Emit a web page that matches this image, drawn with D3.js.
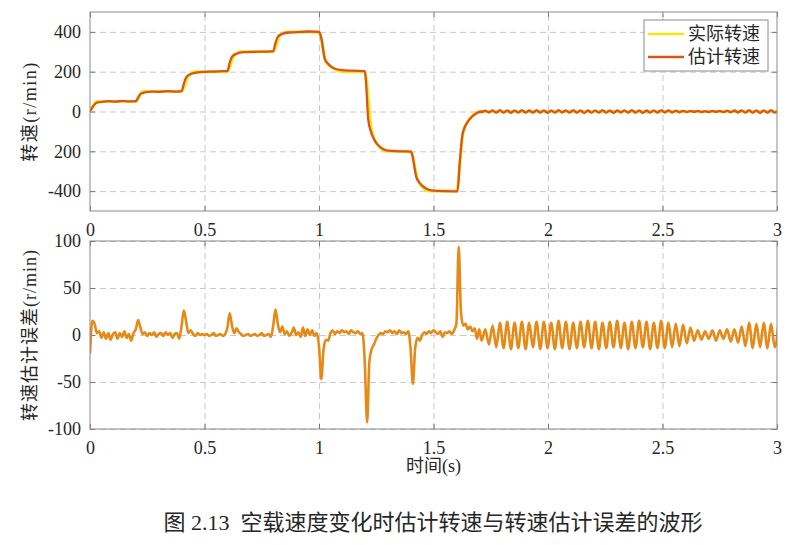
<!DOCTYPE html>
<html>
<head>
<meta charset="utf-8">
<script src="https://cdn.jsdelivr.net/npm/d3@7"></script>
<style>
  body { margin: 0; background: #fff; }
  .axis text { font-family: "Liberation Serif", "Noto Sans CJK SC", serif; font-size: 18px; fill: #262626; }
  .axis path { display: none; }
  .axis line { stroke: #777; }
  .grid line { stroke: #c8c8c8; stroke-dasharray: 6,4; }
  .grid path { display: none; }
  .lbl { font-family: "Liberation Serif", "Noto Sans CJK SC", serif; font-size: 18px; fill: #262626; white-space: pre; }
</style>
</head>
<body>
<svg id="chart" width="790" height="545"></svg>
<script>
// ---- data ----
var xTicks = [0, 0.5, 1, 1.5, 2, 2.5, 3];
var xTickLabels = ['0', '0.5', '1', '1.5', '2', '2.5', '3'];
var speedTicks = [-400, -200, 0, 200, 400];
var speedTickLabels = ['-400', '200', '0', '200', '400'];
var errTicks = [-100, -50, 0, 50, 100];
var errTickLabels = ['-100', '-50', '0', '50', '100'];
var seriesNames = ['实际转速', '估计转速'];

// actual speed (r/min) : [time s, value]
var actualSpeed = [
  [0, 0], [0.03, 50], [0.2, 50], [0.23, 100], [0.4, 100], [0.43, 180], [0.46, 200],
  [0.6, 200], [0.63, 285], [0.66, 300], [0.8, 300], [0.83, 385], [0.86, 400],
  [1.0, 400], [1.03, 250], [1.07, 212], [1.1, 200], [1.2, 200], [1.23, -100],
  [1.27, -185], [1.3, -200], [1.4, -200], [1.43, -340], [1.46, -390], [1.48, -400],
  [1.6, -400], [1.63, -100], [1.66, -35], [1.69, -5], [1.71, 0], [3.0, 0]
];

// estimated speed (r/min) up to 1.71 s : [time s, value]
var estSpeedHead = [
  [0, 0], [0.01, 20], [0.02, 35], [0.03, 45], [0.05, 48], [0.08, 52], [0.11, 50], [0.14, 53],
  [0.17, 51], [0.2, 52], [0.21, 70], [0.22, 88], [0.24, 96], [0.27, 100], [0.3, 99],
  [0.34, 102], [0.38, 100], [0.4, 102], [0.41, 140], [0.42, 172], [0.44, 188], [0.47, 197],
  [0.52, 200], [0.56, 202], [0.6, 203], [0.61, 245], [0.62, 275], [0.64, 290], [0.67, 298],
  [0.72, 300], [0.77, 301], [0.8, 303], [0.81, 345], [0.82, 375], [0.84, 390], [0.87, 397],
  [0.92, 400], [0.96, 402], [1.0, 400], [1.01, 370], [1.025, 265], [1.04, 240], [1.06, 220],
  [1.1, 208], [1.15, 205], [1.2, 203], [1.205, 150], [1.215, -40], [1.225, -95], [1.24, -140],
  [1.27, -182], [1.3, -197], [1.35, -200], [1.4, -202], [1.405, -210], [1.425, -330],
  [1.44, -360], [1.47, -388], [1.5, -398], [1.55, -400], [1.605, -401], [1.615, -250],
  [1.628, -107], [1.657, -40], [1.686, -10], [1.71, 0]
];

// speed ripple after 1.71 s, one value every 0.016 s
var oscStart = 1.71;
var oscStep = 0.016;
var estSpeedOsc = [
  -3, 4, -5, 6, -6, 7, -6, 6, -7, 6,
  -6, 7, -6, 5, -6, 7, -6, 6, -7, 6,
  -6, 7, -5, 6, -6, 7, -6, 6, -7, 5,
  -6, 6, -6, 7, -6, 6, -7, 6, -5, 6,
  -6, 7, -6, 6, -7, 5, -6, 6, -6, 7,
  -5, 6, -5, 4, -4, 3, -3, 3, -2, 3,
  -3, 2, -3, 3, -2, 3, -3, 4, -4, 5,
  -5, 6, -6, 7, -6, 6, -7, 6, -6, 7,
  -6, 5
];

// speed estimation error (r/min), one value every 0.01 s from 0 to 1.70 s
var errStep = 0.01;
var errHead = [
  -20, 15, 12, 2, 4, -3, 3, -4, 2, -5,
  1, 3, -4, 2, -2, 4, -3, 1, -6, 2,
  6, 16, 8, 1, 3, -1, 2, 0, 3, -2,
  1, 2, -1, 3, 0, 2, -3, 1, 2, -4,
  10, 26, 14, 2, 5, 1, -1, 2, 0, 1,
  0, 1, -1, 0, 2, -1, 0, 1, -1, 1,
  8, 23, 10, 2, 7, 3, 1, -1, 0, 1,
  -1, 0, 1, -1, 0, 2, -1, 0, 1, -2,
  10, 27, 12, 3, 9, 1, 4, -1, 2, 8,
  0, 3, -2, 8, -1, 6, 0, 5, -1, 2,
  -12, -47, -15, -5, -6, 2, 5, 1, 4, 2,
  5, 3, 4, 1, 5, 3, 2, 4, 1, 2,
  -30, -93, -28, -15, -10, -4, 0, 2, 1, 4,
  3, 5, 2, 4, 1, 5, 2, 3, 1, 4,
  -15, -52, -14, -3, -6, 0, 3, 1, 4, 2,
  5, 3, 1, 4, -2, 3, 2, 4, 1, 5,
  12, 94, 24, 10, 12, 6, 9, 4, 7, -4,
  6
];
// error ripple after 1.71 s, one value every 0.016 s
var errOsc = [
  -6, 6, -10, 10, -13, 13, -14, 14, -15, 13,
  -14, 14, -15, 13, -13, 14, -15, 14, -14, 13,
  -15, 15, -14, 14, -15, 13, -14, 14, -13, 15,
  -14, 14, -15, 13, -14, 14, -13, 15, -14, 13,
  -15, 14, -14, 15, -13, 14, -15, 13, -14, 15,
  -14, 13, -13, 12, -12, 11, -9, 8, -6, 5,
  -5, 4, -4, 5, -6, 5, -4, 6, -7, 6,
  -8, 9, -12, 13, -14, 12, -13, 13, -14, 12,
  -13, 11
];

var colors = ['#f5e614', '#d9561b'];
var errColor = '#e68a17';

// ---- build series ----
var actualData = actualSpeed.map(d => ({t: d[0], v: d[1]}));
var estData = estSpeedHead.map(d => ({t: d[0], v: d[1]}))
  .concat(estSpeedOsc.map((v, i) => ({t: oscStart + i * oscStep, v: v})));
var errData = errHead.map((v, i) => ({t: i * errStep, v: v}))
  .concat(errOsc.map((v, i) => ({t: oscStart + i * oscStep, v: v})));

// ---- layout ----
var left = 90, right = 777;
var top1 = {top: 12, bottom: 211};
var top2 = {top: 241, bottom: 429};

var svg = d3.select('#chart');

var x = d3.scaleLinear().domain([0, 3]).range([left, right]);
var y1 = d3.scaleLinear().domain([-500, 500]).range([top1.bottom, top1.top]);
var y2 = d3.scaleLinear().domain([-100, 100]).range([top2.bottom, top2.top]);

function panel(y, box, yTicks, yLabels, id) {
  var g = svg.append('g');

  // grid
  g.append('g').attr('class', 'grid')
      .attr('transform', 'translate(0,' + box.bottom + ')')
      .call(d3.axisBottom(x).tickValues(xTicks.slice(1, -1))
            .tickSize(-(box.bottom - box.top)).tickFormat(''));
  g.append('g').attr('class', 'grid')
      .attr('transform', 'translate(' + left + ',0)')
      .call(d3.axisLeft(y).tickValues(yTicks)
            .tickSize(-(right - left)).tickFormat(''));

  // axes with inward ticks
  g.append('g').attr('class', 'axis')
      .attr('transform', 'translate(0,' + box.bottom + ')')
      .call(d3.axisBottom(x).tickValues(xTicks).tickSize(-5).tickPadding(12)
            .tickFormat((d, i) => xTickLabels[i]));
  g.append('g').attr('class', 'axis')
      .attr('transform', 'translate(0,' + box.top + ')')
      .call(d3.axisTop(x).tickValues(xTicks).tickSize(-5).tickFormat(''));
  g.append('g').attr('class', 'axis')
      .attr('transform', 'translate(' + left + ',0)')
      .call(d3.axisLeft(y).tickValues(yTicks).tickSize(-5).tickPadding(9)
            .tickFormat((d, i) => yLabels[i]));
  g.append('g').attr('class', 'axis')
      .attr('transform', 'translate(' + right + ',0)')
      .call(d3.axisRight(y).tickValues(yTicks).tickSize(-5).tickFormat(''));

  svg.append('clipPath').attr('id', id)
    .append('rect')
      .attr('x', left).attr('y', box.top)
      .attr('width', right - left).attr('height', box.bottom - box.top);

  return g;
}

var g1 = panel(y1, top1, speedTicks, speedTickLabels, 'clip1');
var g2 = panel(y2, top2, errTicks, errTickLabels, 'clip2');

var line1 = d3.line().x(d => x(d.t)).y(d => y1(d.v)).curve(d3.curveMonotoneX);
var line2 = d3.line().x(d => x(d.t)).y(d => y2(d.v)).curve(d3.curveMonotoneX);

g1.append('path').datum(actualData)
    .attr('clip-path', 'url(#clip1)')
    .attr('fill', 'none').attr('stroke', colors[0]).attr('stroke-width', 3)
    .attr('d', line1);
g1.append('path').datum(estData)
    .attr('clip-path', 'url(#clip1)')
    .attr('fill', 'none').attr('stroke', colors[1]).attr('stroke-width', 2.3)
    .attr('d', line1);

g2.append('path').datum(errData)
    .attr('clip-path', 'url(#clip2)')
    .attr('fill', 'none').attr('stroke', errColor).attr('stroke-width', 2.6)
    .attr('stroke-linejoin', 'round')
    .attr('d', line2);

// boxes
[top1, top2].forEach(function(b) {
  svg.append('rect')
      .attr('x', left).attr('y', b.top)
      .attr('width', right - left).attr('height', b.bottom - b.top)
      .attr('fill', 'none').attr('stroke', '#8a8a8a').attr('stroke-width', 1);
});

// legend
var lg = svg.append('g').attr('transform', 'translate(644,20)');
lg.append('rect').attr('width', 124).attr('height', 51)
    .attr('fill', '#fff').attr('stroke', '#8a8a8a');
seriesNames.forEach(function(name, i) {
  lg.append('line')
      .attr('x1', 4).attr('x2', 40)
      .attr('y1', 14 + i * 23).attr('y2', 14 + i * 23)
      .attr('stroke', colors[i]).attr('stroke-width', 2.5);
  lg.append('text').attr('class', 'lbl')
      .attr('x', 44).attr('y', 14 + i * 23)
      .attr('dy', '0.35em')
      .style('font-size', '18px')
      .text(name);
});

// axis titles
svg.append('text').attr('class', 'lbl')
    .attr('text-anchor', 'middle')
    .style('letter-spacing', '1.5px')
    .attr('transform', 'translate(36,' + ((top1.top + top1.bottom) / 2) + ') rotate(-90)')
    .text('转速(r/min)');
svg.append('text').attr('class', 'lbl')
    .attr('text-anchor', 'middle')
    .style('letter-spacing', '1px')
    .attr('transform', 'translate(36,' + ((top2.top + top2.bottom) / 2) + ') rotate(-90)')
    .text('转速估计误差(r/min)');
svg.append('text').attr('class', 'lbl')
    .attr('text-anchor', 'middle')
    .attr('x', (left + right) / 2).attr('y', 472)
    .text('时间(s)');

// caption
svg.append('text').attr('class', 'lbl')
    .attr('text-anchor', 'middle')
    .attr('x', 433).attr('y', 530)
    .style('font-size', '22px')
    .text('图 2.13  空载速度变化时估计转速与转速估计误差的波形');
</script>
</body>
</html>
